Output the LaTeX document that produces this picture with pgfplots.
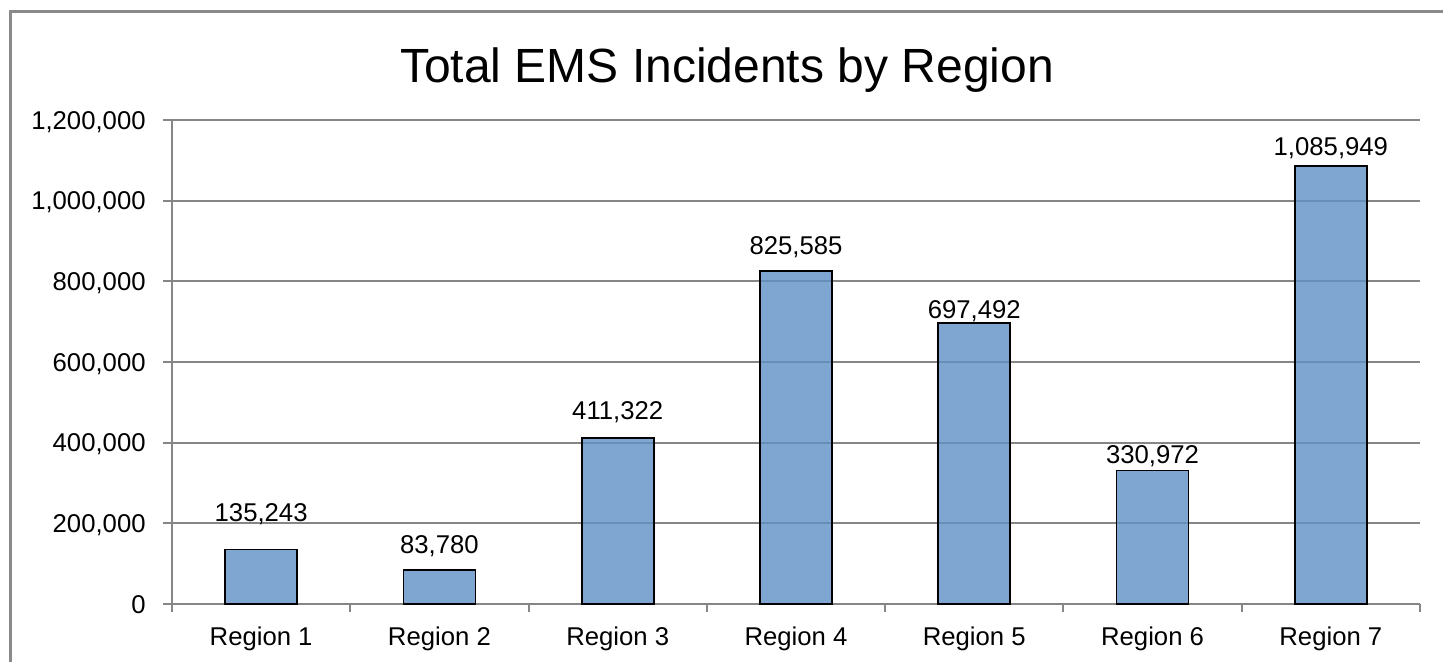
\documentclass[border=0pt]{standalone}
\usepackage{fontspec}
\setmainfont{Liberation Sans}
\usepackage{pgfplots}
\pgfplotsset{compat=1.18}
\usepackage{pgfplotstable}

\definecolor{gridgray}{RGB}{134,134,134}
\definecolor{framegray}{RGB}{138,138,138}
\definecolor{barblue}{RGB}{95,144,196}

% x, incidents, printed label, label offset above bar top (pt)
\pgfplotstableread{
x y label dy
1 135243 135,243 13.8
2 83780 83,780 8.6
3 411322 411,322 9.1
4 825585 825,585 8.5
5 697492 697,492 2.0
6 330972 330,972 3.3
7 1085949 1,085,949 5.0
}\regiondata

\begin{document}
\begin{tikzpicture}
\begin{axis}[
    at={(0pt,0pt)}, anchor=south west,
    scale only axis,
    width=624pt, height=242pt,
    xmin=0.5, xmax=7.5,
    ymin=0, ymax=1200000,
    ybar, bar width=36pt,
    xtick={1,2,3,4,5,6,7},
    xticklabels={Region 1,Region 2,Region 3,Region 4,Region 5,Region 6,Region 7},
    minor xtick={0.5,1.5,2.5,3.5,4.5,5.5,6.5,7.5},
    ytick={0,200000,400000,600000,800000,1000000,1200000},
    scaled y ticks=false,
    /pgf/number format/fixed,
    /pgf/number format/precision=0,
    /pgf/number format/1000 sep={,},
    /pgf/number format/assume math mode=true,
    axis x line*=bottom, axis y line*=left,
    axis line style={gridgray, line width=1pt, -},
    ymajorgrids,
    major grid style={gridgray, line width=1pt},
    tick align=outside,
    major tick length=4.5pt, minor tick length=4pt,
    tick style={gridgray, line width=1pt},
    major x tick style={draw=none},
    minor x tick style={gridgray, line width=1pt},
    tick label style={font=\fontsize{12.85}{15}\selectfont, inner sep=0pt},
    xticklabel style={anchor=base, yshift=-16.5pt},
    yticklabel style={anchor=base east, xshift=-8.5pt, yshift=-4.6pt},
    clip=false,
]
\addplot[
    draw=black, line width=0.9pt,
    fill=barblue, fill opacity=0.8,
    point meta=explicit symbolic,
    visualization depends on={\thisrow{dy} \as \dy},
    nodes near coords={\pgfplotspointmeta},
    nodes near coords style={anchor=base, inner sep=0pt, yshift=\dy pt,
        font=\fontsize{12.85}{15}\selectfont, text=black, text opacity=1},
] table[x=x, y=y, meta=label] {\regiondata};
\end{axis}
\node[anchor=base, font=\fontsize{24}{28}\selectfont] at (277.5pt,260.5pt) {Total EMS Incidents by Region};
\draw[framegray, line width=1.5pt] (-80.75pt,-40pt) -- (-80.75pt,296pt) -- (660pt,296pt);
\pgfresetboundingbox
\useasboundingbox (-86pt,-29pt) rectangle (635.5pt,302pt);
\end{tikzpicture}
\end{document}
